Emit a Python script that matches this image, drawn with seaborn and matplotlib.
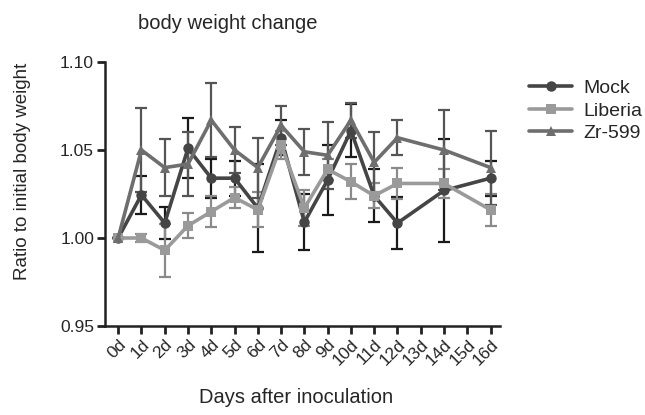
import numpy as np
import pandas as pd
import matplotlib
matplotlib.use("Agg")
import matplotlib.pyplot as plt
import seaborn as sns

days = [0, 1, 2, 3, 4, 5, 6, 7, 8, 9, 10, 11, 12, 14, 16]
tick_labels = ["%dd" % d for d in range(17)]

mock = [1.000, 1.0245, 1.0085, 1.051, 1.034, 1.034, 1.017, 1.057, 1.009,
        1.033, 1.061, 1.024, 1.0085, 1.027, 1.034]
mock_err = [0, 0.011, 0.009, 0.017, 0.011, 0.010, 0.025, 0.010, 0.016,
            0.020, 0.015, 0.015, 0.015, 0.029, 0.010]

liberia = [1.000, 1.000, 0.993, 1.007, 1.015, 1.023, 1.016, 1.053, 1.017,
           1.039, 1.032, 1.024, 1.031, 1.031, 1.016]
liberia_err = [0, 0.002, 0.015, 0.007, 0.009, 0.006, 0.010, 0.008, 0.010,
               0.006, 0.010, 0.007, 0.009, 0.008, 0.009]

zr599 = [1.000, 1.050, 1.040, 1.042, 1.067, 1.050, 1.040, 1.064, 1.049,
         1.047, 1.067, 1.043, 1.057, 1.050, 1.040]
zr599_err = [0, 0.024, 0.016, 0.018, 0.021, 0.013, 0.017, 0.011, 0.013,
             0.019, 0.010, 0.017, 0.010, 0.023, 0.021]

groups = ["Mock", "Liberia", "Zr-599"]
colors = {"Mock": "#454545", "Liberia": "#9a9a9a", "Zr-599": "#6e6e6e"}
bar_colors = {"Mock": "#1a1a1a", "Liberia": "#8a8a8a", "Zr-599": "#555555"}
markers = {"Mock": "o", "Liberia": "s", "Zr-599": "^"}

df = pd.concat(
    [
        pd.DataFrame({"day": days, "ratio": mock, "err": mock_err, "group": "Mock"}),
        pd.DataFrame({"day": days, "ratio": liberia, "err": liberia_err, "group": "Liberia"}),
        pd.DataFrame({"day": days, "ratio": zr599, "err": zr599_err, "group": "Zr-599"}),
    ],
    ignore_index=True,
)

sns.set_style("ticks")
plt.rcParams["font.family"] = ["Liberation Sans", "DejaVu Sans"]

fig = plt.figure(figsize=(6.45, 4.15), dpi=100)
ax = fig.add_axes([0.163, 0.2145, 0.612, 0.636])

for g in groups:
    sub = df[df["group"] == g]
    ax.errorbar(sub["day"], sub["ratio"], yerr=sub["err"], fmt="none",
                ecolor=bar_colors[g], elinewidth=1.6, capsize=4.5, capthick=1.6,
                zorder=2)

sns.lineplot(
    data=df, x="day", y="ratio", hue="group", style="group",
    hue_order=groups, style_order=groups, palette=colors, markers=markers,
    dashes=False, errorbar=None, linewidth=2.6, markersize=7.5,
    markeredgewidth=0, ax=ax, zorder=3,
)

ax.set_xlim(-0.56, 16.4)
ax.set_ylim(0.95, 1.10)
ax.set_yticks([0.95, 1.00, 1.05, 1.10])
ax.set_yticklabels(["0.95", "1.00", "1.05", "1.10"], fontsize=12.5)
ax.set_xticks(range(17))
ax.set_xticklabels(tick_labels, rotation=45, ha="right", rotation_mode="anchor",
                   fontsize=12.5)
ax.tick_params(axis="both", direction="out", length=6, width=2, color="#222222",
               pad=2)
for s in ["left", "bottom"]:
    ax.spines[s].set_linewidth(1.8)
    ax.spines[s].set_color("#222222")
sns.despine(ax=ax)

ax.set_xlabel("Days after inoculation", fontsize=14.5)
ax.xaxis.set_label_coords(0.483, -0.235)
ax.set_ylabel("Ratio to initial body weight", fontsize=13.5)
ax.yaxis.set_label_coords(-0.21, 0.587)
ax.yaxis.label.set_va("center")
ax.set_title("body weight change", fontsize=14.5, x=0.31, pad=24)

ax.legend(loc="upper left", bbox_to_anchor=(1.03, 1.0), frameon=False,
          fontsize=14, handlelength=2.2, handletextpad=0.6, labelspacing=0.25,
          markerscale=1.0)

fig.savefig("out.png", dpi=100)
